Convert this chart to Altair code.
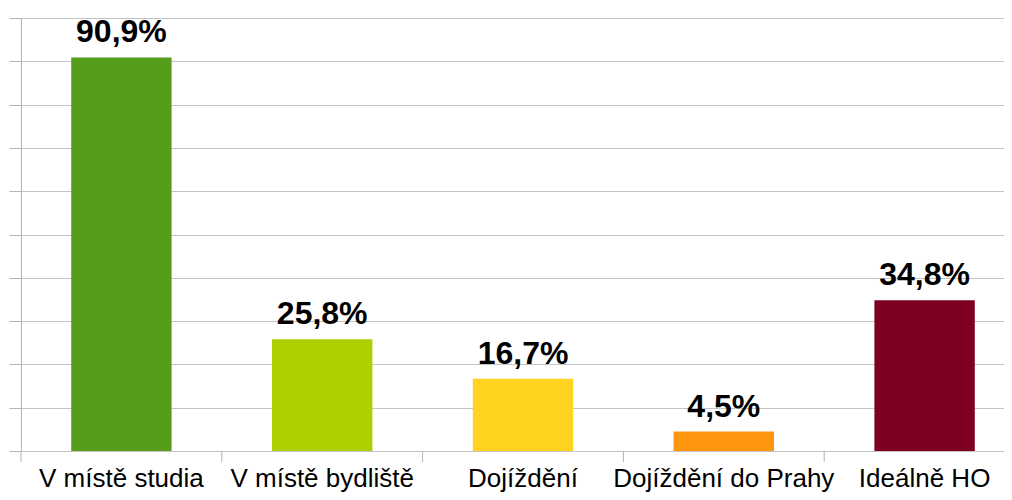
import altair as alt
import pandas as pd

categories = ["V místě studia", "V místě bydliště", "Dojíždění", "Dojíždění do Prahy", "Ideálně HO"]
values = [90.9, 25.8, 16.7, 4.5, 34.8]
labels = ["90,9%", "25,8%", "16,7%", "4,5%", "34,8%"]
colors = ["#579d1c", "#aecf00", "#ffd320", "#ff950e", "#7e0021"]
y_ticks = [0, 10, 20, 30, 40, 50, 60, 70, 80, 90, 100]

df = pd.DataFrame({"cat": categories, "val": values, "lab": labels})

FONT = "Liberation Sans"
GRAY = "#b3b3b3"
W, H = 983, 433

xscale = alt.Scale(domain=categories, range=[0, 1004], paddingInner=0, paddingOuter=0)

x = alt.X(
    "cat:N",
    sort=categories,
    scale=xscale,
    axis=alt.Axis(
        title=None, labelAngle=0, labelFontSize=26, labelFont=FONT,
        labelColor="black", ticks=False, domain=False, labelPadding=14,
        grid=False, labelLimit=0,
    ),
)
y = alt.Y(
    "val:Q",
    scale=alt.Scale(domain=[0, 100]),
    axis=alt.Axis(
        title=None, labels=False, values=y_ticks, tickSize=12,
        domainColor=GRAY, tickColor=GRAY, gridColor="#c4c4c4", grid=True,
    ),
)

bars = alt.Chart(df).mark_bar(width=alt.RelativeBandSize(0.5)).encode(
    x=x,
    y=y,
    color=alt.Color("cat:N", scale=alt.Scale(domain=categories, range=colors), legend=None),
)
text = alt.Chart(df).mark_text(
    dy=-15, baseline="alphabetic", fontSize=32, fontWeight="bold", font=FONT, color="black"
).encode(x=alt.X("cat:N", sort=categories), y="val:Q", text="lab:N")

ticks = alt.Chart(df).mark_rule(color=GRAY, strokeWidth=1).encode(
    x=alt.X("cat:N", sort=categories, bandPosition=0),
    y=alt.value(H),
    y2=alt.value(H + 11),
)

chart = alt.layer(bars, ticks, text).properties(
    width=W, height=H,
    autosize="none",
    padding={"left": 13, "top": 10, "right": 0, "bottom": 41},
).configure_view(stroke=None)

chart.save("out.html", embed_options={"renderer": "svg", "actions": False})
